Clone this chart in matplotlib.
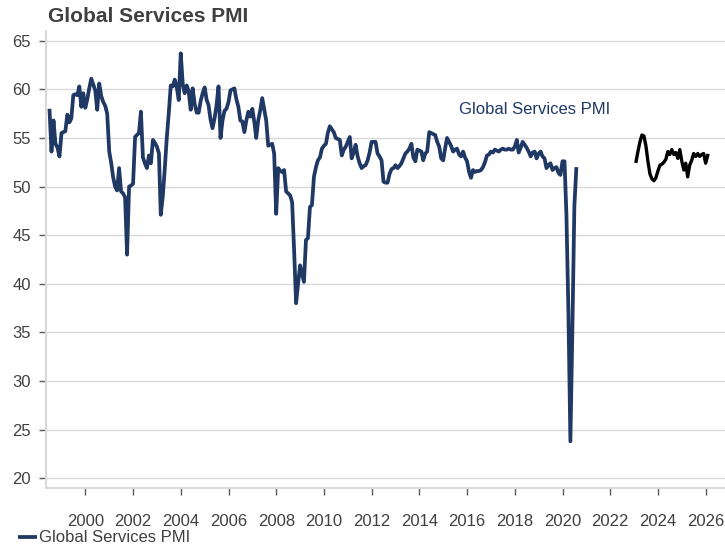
import matplotlib
matplotlib.use('Agg')
import matplotlib.pyplot as plt
import matplotlib.dates as mdates
import pandas as pd

plt.rcParams['font.family'] = ['Liberation Sans', 'DejaVu Sans']

# Global Services PMI, monthly (month end), Jun 1998 - Jul 2020
pmi_start = '1998-06-30'
pmi_values = [
    58.0, 53.6, 56.8, 54.4, 54.0, 53.1, 55.5,                                # 1998
    55.6, 55.7, 57.4, 56.6, 57.0, 59.4, 59.5, 59.4, 60.3, 58.2, 59.6, 58.1,  # 1999
    59.0, 60.1, 61.1, 60.5, 59.9, 57.9, 60.6, 59.3, 58.7, 58.3, 57.5, 53.6,  # 2000
    52.4, 51.0, 50.0, 49.6, 51.9, 49.5, 49.3, 48.9, 43.0, 50.0, 50.1, 50.3,  # 2001
    55.1, 55.3, 55.5, 57.7, 53.0, 52.4, 51.9, 53.2, 52.4, 54.8, 54.5, 54.1,  # 2002
    53.4, 47.1, 49.0, 51.8, 55.0, 57.5, 60.4, 60.3, 61.0, 60.2, 58.9, 63.7,  # 2003
    60.5, 59.6, 60.4, 59.8, 57.9, 60.1, 58.5, 57.6, 57.6, 58.8, 59.6, 60.2,  # 2004
    58.9, 58.4, 56.9, 56.0, 57.0, 58.3, 60.3, 55.0, 56.8, 57.8, 58.0, 58.7,  # 2005
    59.9, 60.0, 60.1, 59.0, 58.2, 56.8, 56.7, 55.6, 56.8, 57.7, 57.2, 58.0,  # 2006
    56.6, 55.0, 56.8, 57.8, 59.1, 58.0, 56.8, 54.2, 54.3, 54.4, 53.4, 47.2,  # 2007
    51.9, 51.6, 51.5, 51.7, 49.5, 49.3, 49.1, 48.4, 43.5, 38.0, 40.0, 41.9,  # 2008
    41.0, 40.2, 44.5, 44.7, 47.9, 48.1, 51.0, 52.0, 52.7, 53.0, 53.9, 54.2,  # 2009
    54.4, 55.5, 56.2, 55.9, 55.6, 55.0, 54.9, 54.8, 53.2, 53.8, 54.1, 54.6,  # 2010
    55.1, 52.9, 53.5, 54.3, 53.1, 52.4, 51.9, 52.1, 52.2, 52.7, 53.5, 54.6,  # 2011
    54.6, 54.6, 53.4, 53.1, 52.7, 50.5, 50.4, 50.4, 51.3, 51.8, 51.9, 52.2,  # 2012
    51.9, 52.1, 52.4, 52.9, 53.4, 53.6, 53.9, 54.4, 53.0, 52.6, 53.8, 53.7,  # 2013
    53.6, 52.7, 53.4, 53.6, 55.6, 55.5, 55.4, 55.3, 54.6, 54.1, 52.9, 52.7,  # 2014
    54.0, 55.0, 54.6, 54.2, 53.6, 53.8, 53.9, 53.3, 53.1, 53.6, 53.0, 52.6,  # 2015
    51.5, 50.9, 51.7, 51.5, 51.6, 51.6, 51.7, 52.0, 52.5, 53.2, 53.3, 53.6,  # 2016
    53.5, 53.8, 53.7, 53.6, 53.8, 53.9, 53.8, 53.8, 53.9, 53.8, 53.8, 54.1,  # 2017
    54.8, 53.5, 54.0, 54.6, 54.3, 54.0, 53.6, 53.1, 53.5, 53.6, 52.9, 53.4,  # 2018
    53.6, 53.1, 52.9, 51.9, 52.2, 52.4, 51.7, 51.9, 52.0, 51.4, 51.2, 52.6,  # 2019
    52.6, 47.2, 37.0, 23.8, 35.5, 48.0, 52.0,                                # 2020
]

# second (black) series, Jan 2023 - Jan 2026
late_start = '2023-01-31'
late_values = [
    52.6, 53.6, 54.6, 55.3, 55.2, 54.2, 52.6, 51.3, 50.8, 50.6, 50.9, 51.6,
    52.2, 52.3, 52.5, 52.8, 53.6, 53.3, 53.8, 53.3, 53.5, 52.9, 53.8, 52.6,
    51.7, 52.4, 51.0, 52.2, 52.7, 53.4, 53.1, 53.4, 53.1, 53.3, 53.4, 52.4,
    53.2,
]

pmi_dates = pd.date_range(pmi_start, periods=len(pmi_values), freq='ME')
late_dates = pd.date_range(late_start, periods=len(late_values), freq='ME')

navy = '#1f3864'
grid_c = '#d9d9d9'
text_c = '#404040'

fig = plt.figure(figsize=(7.25, 5.5), dpi=100)
ax = fig.add_axes([46 / 725, 1 - 488 / 550, 1 - 46 / 725, (488 - 31) / 550])

ax.plot(pmi_dates, pmi_values, color=navy, lw=2.7, label='Global Services PMI',
        solid_joinstyle='round', solid_capstyle='butt')
ax.plot(late_dates, late_values, color='black', lw=2.4, solid_joinstyle='round')

ax.set_ylim(19.0, 66.0)
ax.set_yticks(range(20, 70, 5))
ax.set_xlim(pd.Timestamp('1998-05-08'), pd.Timestamp('2026-10-23'))
ax.xaxis.set_major_locator(mdates.YearLocator(2))
ax.xaxis.set_major_formatter(mdates.DateFormatter('%Y'))

ax.grid(axis='y', color=grid_c, lw=1)
ax.set_axisbelow(True)
for s in ['top', 'right']:
    ax.spines[s].set_visible(False)
for s in ['left', 'bottom']:
    ax.spines[s].set_color(grid_c)
    ax.spines[s].set_linewidth(1.5)

ax.tick_params(axis='y', length=5, width=1, color='#595959', labelsize=12,
               labelcolor=text_c, pad=6)
ax.tick_params(axis='x', length=5, width=1, color='#595959', labelsize=12,
               labelcolor=text_c, pad=14)

ax.text(pd.Timestamp('2015-08-25'), 57.9, 'Global Services PMI', color=navy,
        fontsize=12, va='center', ha='left')

fig.text(48 / 725, 1 - 16 / 550, 'Global Services PMI', fontsize=15,
         fontweight='bold', color=text_c, va='center', ha='left')

fig.legend(loc='center left', bbox_to_anchor=(0.015, 1 - 538 / 550), frameon=False,
           fontsize=12, handlelength=1.15, handletextpad=0.15, borderaxespad=0,
           labelcolor=text_c)

fig.savefig('out.png', dpi=100)
